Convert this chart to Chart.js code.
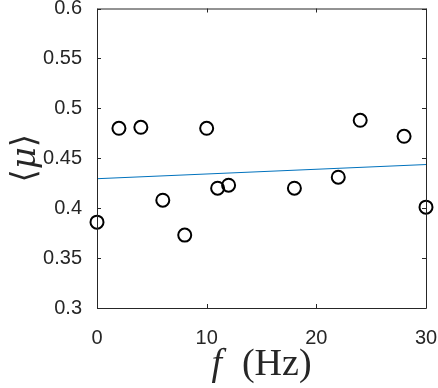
<!DOCTYPE html>
<html>
<head>
<meta charset="utf-8">
<script src="https://cdn.jsdelivr.net/npm/chart.js@4"></script>
<style>
  html, body { margin: 0; padding: 0; background: #fff; }
  #wrap { width: 438px; height: 388px; }
</style>
</head>
<body>
<div id="wrap"><canvas id="muChart" width="438" height="388"></canvas></div>
<script>
// data
const freqs = [0, 2, 4, 6, 8, 10, 11, 12, 18, 22, 24, 28, 30];
const muVals = [0.386, 0.480, 0.481, 0.408, 0.373, 0.480, 0.420, 0.423, 0.420, 0.431, 0.488, 0.472, 0.401];
const fitX = [0, 30];
const fitY = [0.4295, 0.4437];
const xTicks = [0, 10, 20, 30];
const yTicks = [0.3, 0.35, 0.4, 0.45, 0.5, 0.55, 0.6];

const axisColor = '#262626';

// box round the axes with inward ticks, plus the latex-ish axis labels
const boxPlugin = {
    id: 'box',
    afterDraw(chart) {
        const ctx = chart.ctx;
        const a = chart.chartArea;
        const xs = chart.scales.x, ys = chart.scales.y;
        ctx.save();
        ctx.strokeStyle = axisColor;
        ctx.lineWidth = 1;
        ctx.beginPath();
        ctx.rect(a.left + 0.5, a.top + 0.5, a.right - a.left, a.bottom - a.top);
        xTicks.forEach(function (v) {
            const px = Math.round(xs.getPixelForValue(v)) + 0.5;
            ctx.moveTo(px, a.bottom); ctx.lineTo(px, a.bottom - 4);
            ctx.moveTo(px, a.top); ctx.lineTo(px, a.top + 4);
        });
        yTicks.forEach(function (v) {
            const py = Math.round(ys.getPixelForValue(v)) + 0.5;
            ctx.moveTo(a.left, py); ctx.lineTo(a.left + 4, py);
            ctx.moveTo(a.right, py); ctx.lineTo(a.right - 4, py);
        });
        ctx.stroke();

        // x label: italic f, roman (Hz)
        ctx.fillStyle = axisColor;
        ctx.textBaseline = 'alphabetic';
        ctx.textAlign = 'left';
        const italic = 'italic 38px "Liberation Serif"';
        const roman = '38px "Liberation Serif"';
        ctx.font = italic;
        const wf = ctx.measureText('f').width;
        ctx.font = roman;
        const wh = ctx.measureText('(Hz)').width;
        const gap = 20;
        const cx = (a.left + a.right) / 2;
        let x0 = cx - (wf + gap + wh) / 2;
        ctx.font = italic;
        ctx.fillText('f', x0, 375);
        ctx.font = roman;
        ctx.fillText('(Hz)', x0 + wf + gap, 375);

        // y label: <mu>
        ctx.translate(35, (a.top + a.bottom) / 2);
        ctx.rotate(-Math.PI / 2);
        ctx.font = '34px "DejaVu Serif"';
        const wl = ctx.measureText('⟨').width;
        ctx.font = 'italic 34px "DejaVu Serif"';
        const wm = ctx.measureText('μ').width;
        const tot = wl * 2 + wm;
        ctx.textAlign = 'left';
        ctx.font = '34px "DejaVu Serif"';
        ctx.fillText('⟨', -tot / 2, 0);
        ctx.fillText('⟩', -tot / 2 + wl + wm, 0);
        ctx.font = 'italic 34px "DejaVu Serif"';
        ctx.fillText('μ', -tot / 2 + wl, 0);
        ctx.restore();
    }
};

function noPad(s) {
    s.paddingLeft = 0; s.paddingRight = 0;
    s.paddingTop = 0; s.paddingBottom = 0;
}

const ctx = document.getElementById('muChart');

new Chart(ctx, {
    type: 'scatter',
    data: {
        datasets: [{
            label: 'fit',
            type: 'line',
            data: fitX.map(function (x, i) { return { x: x, y: fitY[i] }; }),
            borderColor: '#0072BD',
            borderWidth: 1,
            pointRadius: 0,
            fill: false
        },
        {
            label: 'mu',
            data: freqs.map(function (f, i) { return { x: f, y: muVals[i] }; }),
            backgroundColor: 'rgba(0,0,0,0)',
            borderColor: '#000',
            borderWidth: 2,
            pointRadius: 6.5,
            clip: false
        }]
    },
    options: {
        responsive: false,
        animation: false,
        layout: { padding: { left: 0, right: 12, top: 8, bottom: 0 } },
        plugins: {
            legend: { display: false },
            tooltip: { enabled: false }
        },
        scales: {
            x: {
                type: 'linear',
                min: 0,
                max: 30,
                afterFit: function (s) { s.height = 80; noPad(s); },
                afterBuildTicks: function (s) { s.ticks = xTicks.map(function (v) { return { value: v }; }); },
                grid: { display: false },
                border: { display: false },
                ticks: {
                    color: axisColor,
                    padding: 10,
                    font: { family: 'Liberation Sans', size: 20 },
                    maxRotation: 0
                }
            },
            y: {
                type: 'linear',
                min: 0.3,
                max: 0.6,
                afterFit: function (s) { s.width = 97; noPad(s); },
                afterBuildTicks: function (s) { s.ticks = yTicks.map(function (v) { return { value: v }; }); },
                grid: { display: false },
                border: { display: false },
                ticks: {
                    color: axisColor,
                    padding: 7,
                    font: { family: 'Liberation Sans', size: 20 },
                    callback: function (v) { return String(parseFloat(v.toFixed(2))); }
                }
            }
        }
    },
    plugins: [boxPlugin]
});
</script>
</body>
</html>
